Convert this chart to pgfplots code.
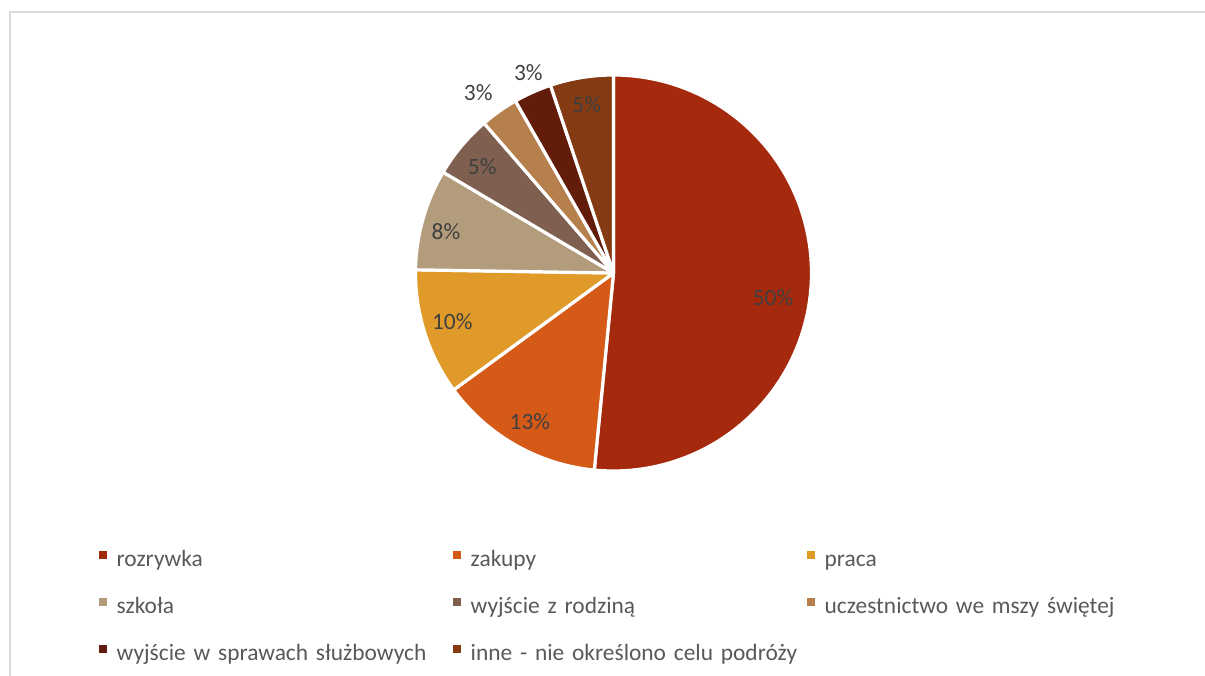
\documentclass[border=0pt]{standalone}
\usepackage{pgfplots}
\usepackage{pgfplotstable}
\pgfplotsset{compat=1.18}
\usepackage{fontspec}
\setmainfont{Carlito}

\definecolor{c0}{HTML}{A52A0D}
\definecolor{c1}{HTML}{D55A17}
\definecolor{c2}{HTML}{E09A29}
\definecolor{c3}{HTML}{B39C7C}
\definecolor{c4}{HTML}{7F5F50}
\definecolor{c5}{HTML}{B5804C}
\definecolor{c6}{HTML}{631C0A}
\definecolor{c7}{HTML}{843A12}
\definecolor{lbl}{HTML}{404040}
\definecolor{leg}{HTML}{595959}
\definecolor{framecol}{HTML}{D9D9D9}
\newcommand\cfont{\fontsize{11.7}{14}\selectfont}

% value = slice value (shown as %), lx, ly = label position (pie radius = 1)
\pgfplotstableread{
value lx ly
50 0.806 -0.126
13 -0.422 -0.754
10 -0.814 -0.249
8 -0.846 0.209
5 -0.663 0.534
3 -0.683 0.908
3 -0.430 1.009
5 -0.135 0.848
}\piedata

\begin{document}
\begin{tikzpicture}
\gdef\pietotal{0}
\pgfplotstableforeachcolumnelement{value}\of\piedata\as\v{%
  \pgfmathsetmacro\tmp{\pietotal+\v}\xdef\pietotal{\tmp}}
\gdef\pieacc{90}
\pgfplotstableforeachcolumnelement{value}\of\piedata\as\v{%
  \expandafter\xdef\csname pieS\pgfplotstablerow\endcsname{\pieacc}%
  \pgfmathsetmacro\tmp{\pieacc-(360/\pietotal)*\v}%
  \xdef\pieacc{\tmp}%
  \expandafter\xdef\csname pieE\pgfplotstablerow\endcsname{\pieacc}}

\path[use as bounding box] (0,0) rectangle (602.5pt,-337.5pt);
\draw[framecol, line width=1pt] (4.75pt,-345pt) -- (4.75pt,-5.85pt) -- (610pt,-5.85pt);

\begin{axis}[
  hide axis, scale only axis,
  width=237.6pt, height=237.6pt,
  xmin=-1.2, xmax=1.2, ymin=-1.2, ymax=1.2,
  clip=false,
  at={(306.75pt,-136.5pt)}, anchor=center,
  legend columns=3,
  legend cell align=left,
  legend image code/.code={\path[#1,draw=none] (0pt,0.7pt) rectangle (4pt,4.7pt);},
  legend style={at={(-0.5821,-0.0787)}, anchor=north west, draw=none, fill=none,
    inner sep=0pt, outer sep=0pt, row sep=11.5pt, column sep=0pt,
    font=\cfont, text=leg,
    nodes={inner sep=0pt, text width=168.3pt, align=left, text height=9pt, text depth=3pt},
    /tikz/every odd column/.append style={column sep=4.7pt}},
]
\pgfplotsinvokeforeach{0,...,7}{%
  \edef\temp{\noexpand\addplot[fill=c#1, draw=white, line width=1.6pt, line join=round,
    domain=\csname pieE#1\endcsname:\csname pieS#1\endcsname, samples=90]
    ({cos(x)},{sin(x)}) -- (axis cs:0,0) -- cycle;}%
  \temp
}
\addplot[only marks, mark=none, point meta=explicit,
  nodes near coords={\pgfmathprintnumber[assume math mode=true]{\pgfplotspointmeta}\%},
  nodes near coords align=center,
  every node near coord/.append style={font=\cfont, text=lbl, anchor=center,
    inner sep=0pt, text height=7.5pt, text depth=0pt}]
  table[x=lx, y=ly, meta=value]{\piedata};
\legend{rozrywka, zakupy, praca, szkoła, wyjście z rodziną, uczestnictwo we mszy świętej, wyjście w sprawach służbowych, inne - nie określono celu podróży}
\end{axis}
\end{tikzpicture}
\end{document}
